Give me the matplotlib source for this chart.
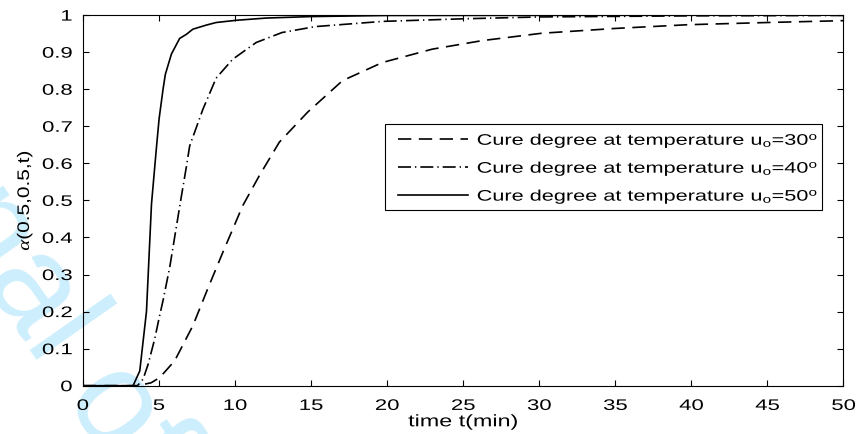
import matplotlib
matplotlib.use("Agg")
import matplotlib.pyplot as plt
from matplotlib.patheffects import AbstractPathEffect
from matplotlib.transforms import Affine2D
from matplotlib.patches import Rectangle

# cure degree alpha(0.5,0.5,t)
t30 = [0, 3.6, 4.5, 5.06, 6.04, 7.24, 8.2, 9.21, 10.52, 11.61, 12.92, 14.78,
       17.07, 19.69, 22.96, 26.23, 30.16, 35, 39.75, 45, 50]
a30 = [0, 0, 0.008, 0.022, 0.067, 0.162, 0.26, 0.36, 0.486, 0.567, 0.657, 0.738,
       0.823, 0.872, 0.908, 0.931, 0.951, 0.964, 0.974, 0.980, 0.985]

t40 = [0, 3.6, 3.97, 4.3, 4.73, 5.06, 5.28, 5.72, 6.16, 6.48, 6.81, 7.03, 7.9,
       8.77, 9.86, 11.4, 13.1, 15.3, 19.7, 25, 30, 40, 50]
a40 = [0, 0, 0.018, 0.058, 0.126, 0.19, 0.23, 0.32, 0.43, 0.51, 0.59, 0.647, 0.746,
       0.83, 0.881, 0.926, 0.953, 0.969, 0.983, 0.99, 0.995, 0.998, 0.999]

t50 = [0, 3.31, 3.75, 4.19, 4.52, 4.84, 5.02, 5.28, 5.43, 5.83, 6.37, 6.81, 7.24,
       8.12, 8.77, 10.1, 12.05, 15, 20, 50]
a50 = [0, 0, 0.04, 0.2, 0.49, 0.64, 0.72, 0.8, 0.84, 0.895, 0.937, 0.948, 0.962,
       0.973, 0.98, 0.986, 0.992, 0.996, 0.999, 1.0]

xticks = list(range(0, 51, 5))
yticks = [i / 10 for i in range(11)]
yticklabels = ['0', '0.1', '0.2', '0.3', '0.4', '0.5', '0.6', '0.7', '0.8', '0.9', '1']
labels = [r'Cure degree at temperature u$_\mathrm{o}$=30$^\mathrm{o}$',
          r'Cure degree at temperature u$_\mathrm{o}$=40$^\mathrm{o}$',
          r'Cure degree at temperature u$_\mathrm{o}$=50$^\mathrm{o}$']


class Stretch(AbstractPathEffect):
    # the reference text is drawn wider than normal, stretch glyphs along the baseline
    def __init__(self, sx, where='left'):
        super().__init__()
        self.sx = sx
        self.where = where

    def draw_path(self, renderer, gc, tpath, affine, rgbFace=None):
        xs = tpath.vertices[:, 0]
        if len(xs) == 0:
            return
        if self.where == 'right':
            x0 = xs.max()
        elif self.where == 'center':
            x0 = (xs.min() + xs.max()) / 2
        else:
            x0 = xs.min()
        pre = Affine2D().translate(-x0, 0).scale(self.sx, 1).translate(x0, 0)
        renderer.draw_path(gc, tpath, pre + affine, rgbFace)


plt.rcParams['font.family'] = ['Liberation Sans', 'DejaVu Sans']
plt.rcParams['mathtext.fontset'] = 'custom'
plt.rcParams['mathtext.rm'] = 'Liberation Sans'
plt.rcParams['mathtext.it'] = 'Liberation Serif:italic'

fig = plt.figure(figsize=(8.58, 4.35), dpi=100)
ax = fig.add_axes([0.0964, 0.111, 0.8867, 0.852])
ax.set_facecolor('none')

# faint journal watermark behind the plot
fig.text(-0.2472, 0.989, 'Journal of', fontsize=97, color='#cdeefc',
         rotation=-55, rotation_mode='anchor', ha='left', va='baseline', zorder=-1)

ax.plot(t30, a30, color='k', lw=1.2, dashes=(8, 4.5), label=labels[0])
ax.plot(t40, a40, color='k', lw=1.2, dashes=(7.8, 2.4, 0.8, 2.4), label=labels[1])
ax.plot(t50, a50, color='k', lw=1.2, label=labels[2])

ax.set_xlim(0, 50)
ax.set_ylim(0, 1)
ax.set_xticks(xticks)
xl = ax.set_xticklabels([str(v) for v in xticks])
ax.set_yticks(yticks)
yl = ax.set_yticklabels(yticklabels)
ax.tick_params(direction='in', length=4.5, width=0.8, top=True, right=True,
               labelsize=11)
ax.tick_params(axis='x', pad=9.5)
ax.tick_params(axis='y', pad=7.5)
for s in ax.spines.values():
    s.set_linewidth(0.8)
for t in xl:
    t.set_path_effects([Stretch(1.45, 'center')])
for t in yl:
    t.set_path_effects([Stretch(1.45, 'right')])

xlab = ax.set_xlabel('time t(min)', fontsize=12, labelpad=1)
xlab.set_path_effects([Stretch(1.4, 'center')])
ylab = ax.set_ylabel(r'$\alpha$(0.5,0.5,t)', fontsize=12)
ylab.set_path_effects([Stretch(1.25, 'center')])
ax.yaxis.set_label_coords(-0.064, 0.5)

leg = ax.legend(loc='upper left', bbox_to_anchor=(0.4144, 0.685), borderaxespad=0,
                fontsize=11, frameon=False, handlelength=4.6, handletextpad=0.55,
                labelspacing=0.65, borderpad=0)
for t in leg.get_texts():
    t.set_path_effects([Stretch(1.42, 'left')])
# legend frame sized to the stretched text
ax.add_patch(Rectangle((0.397, 0.474), 0.5744, 0.232, transform=ax.transAxes,
                       fill=False, edgecolor='k', lw=0.8, zorder=4))

fig.savefig('out.png', dpi=100)
